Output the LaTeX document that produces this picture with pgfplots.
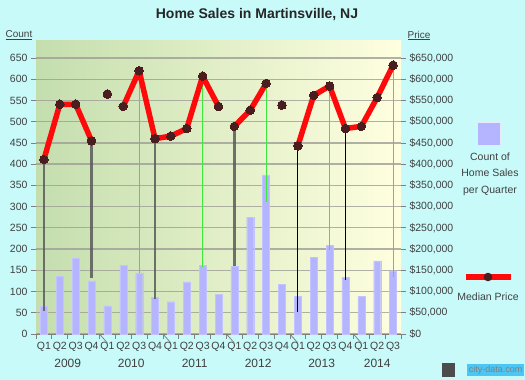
\documentclass[border=0pt]{standalone}
\usepackage{pgfplots}
\pgfplotsset{compat=1.18}
\usepackage{fontspec}
\setmainfont{Liberation Sans}
\definecolor{bgc}{HTML}{C8FAFA}
\definecolor{plotL}{HTML}{C4DEAE}
\definecolor{plotR}{HTML}{FFFFE0}
\definecolor{barc}{HTML}{B4B4FF}
\definecolor{mk}{HTML}{4A1E1E}
\definecolor{tk}{HTML}{404040}
\definecolor{gridc}{HTML}{9E9E96}
\definecolor{dropg}{HTML}{5A5A5A}
\definecolor{dropgreen}{HTML}{3CE83C}
\definecolor{linered}{HTML}{FF0A0A}
\begin{document}
\begin{tikzpicture}[x=1pt,y=1pt]
\fill[bgc] (0,0) rectangle (525,380);
\begin{axis}[at={(36pt,46pt)}, anchor=south west, scale only axis,
  width=365pt, height=293pt,
  xmin=-0.5, xmax=22.5, ymin=0, ymax=690,
  axis background/.style={left color=plotL, right color=plotR},
  axis x line*=bottom, axis y line*=left,
  x axis line style={draw=gray, line width=0.8pt},
  y axis line style={draw=none},
  tick align=outside, major tick length=5pt,
  tick style={draw=gray, line width=0.8pt},
  ytick={0,50,...,650},
  ymajorgrids, grid style={gridc, line width=1.3pt, opacity=0.8},
  xtick={-0.5,0.5,...,22.5},
  xticklabels={Q1,Q2,Q3,Q4,Q1,Q2,Q3,Q4,Q1,Q2,Q3,Q4,Q1,Q2,Q3,Q4,Q1,Q2,Q3,Q4,Q1,Q2,Q3,{}},
  xticklabel style={xshift=7.93pt},
  every tick label/.append style={font=\fontsize{10.5}{12}\selectfont, text=tk},
  /pgf/number format/assume math mode=true,
  unbounded coords=jump,
  clip=false,
]
\addplot[ybar, bar width=7pt, fill=barc, draw=barc!80!white, line width=0.3pt] coordinates {
(0,65)(1,136)(2,178)(3,125)(4,66)(5,162)(6,144)(7,86)(8,76)(9,123)(10,161)(11,94)
(12,160)(13,275)(14,375)(15,117)(16,88)(17,180)(18,209)(19,133)(20,89)(21,172)(22,149)};
% drop lines
\addplot[dropg, line width=2.4pt, opacity=0.85] coordinates {
(0,55)(0,411)(0.5,nan)(3,132)(3,455)(3.5,nan)(7,82)(7,460)(7.5,nan)(12,160)(12,489)};
\addplot[dropgreen, line width=1pt] coordinates {
(6,144)(6,620)(6.5,nan)(10,158)(10,607)(10.5,nan)(14,311)(14,590)(14.5,nan)(18,198)(18,584)(18.5,nan)(22,134)(22,633)};
\addplot[black, line width=1.1pt] coordinates {
(16,52)(16,443)(16.5,nan)(19,127)(19,484)};
% median price
\addplot[linered, line width=5.5pt, line join=round, mark=*, mark size=4.3pt,
  mark options={fill=mk, draw=mk, line width=0pt}] coordinates {
(0,411)(1,541)(2,541)(3,455)(3.5,nan)(4,565)(4.5,nan)(5,536)(6,620)(7,460)(8,466)(9,484)(10,607)(11,536)
(11.5,nan)(12,489)(13,527)(14,590)(14.5,nan)(15,539)(15.5,nan)(16,443)(17,562)(18,584)(19,484)(20,489)(21,557)(22,633)};
% year boundary ticks and year labels
\foreach \xx in {3.5,7.5,11.5,15.5,19.5} {
  \edef\tmp{\noexpand\draw[gray, line width=0.8pt] (axis cs:\xx,0) -- ++(0,-9pt);}\tmp
}
\foreach \xx/\yy in {1.5/2009,5.5/2010,9.5/2011,13.5/2012,17.5/2013,21/2014} {
  \edef\tmp{\noexpand\node[font=\noexpand\fontsize{12}{14}\noexpand\selectfont, text=tk] at (axis cs:\xx,0) [yshift=-29pt] {\yy};}\tmp
}
\end{axis}
\begin{axis}[at={(36pt,46pt)}, anchor=south west, scale only axis,
  width=365pt, height=293pt,
  xmin=-0.5, xmax=22.5, ymin=0, ymax=690000,
  axis x line=none, axis y line*=right,
  axis line style={draw=none},
  tick align=outside, major tick length=5pt,
  tick style={draw=gray, line width=0.8pt},
  ytick={0,50000,...,650000}, scaled y ticks=false,
  yticklabel={\$\pgfmathprintnumber{\tick}},
  /pgf/number format/.cd, fixed, precision=0, 1000 sep={,}, assume math mode=true, /pgfplots/.cd,
  every tick label/.append style={font=\fontsize{10.5}{12}\selectfont, text=tk},
]
\addplot[draw=none] coordinates {(0,0)};
\end{axis}
% titles
\node[font=\bfseries\fontsize{14}{16}\selectfont, text=black!85] at (257,365) {Home Sales in Martinsville, NJ};
\node[font=\fontsize{10}{12}\selectfont, text=tk] at (19,344.5) {\underline{Count}};
\node[font=\fontsize{10}{12}\selectfont, text=tk] at (419,344.5) {\underline{Price}};
% legend
\fill[barc, draw=white!70!barc] (477,235) rectangle (500,258);
\node[font=\fontsize{10.5}{16.5}\selectfont, text=tk, align=center] at (490,206) {Count of\\Home Sales\\per Quarter};
\draw[linered, line width=5.5pt] (466,103) -- (511,103);
\fill[mk] (488,103) circle (4.3pt);
\node[font=\fontsize{10.5}{12}\selectfont, text=tk] at (488,83) {Median Price};
\node[font=\fontsize{9}{10}\selectfont, text=gray, fill=cyan!70, inner sep=1.5pt, anchor=east] at (524,10) {city-data.com};
\fill[gray!60!black] (442,3) rectangle (455,17);
\pgfresetboundingbox
\useasboundingbox (0,0) rectangle (525,380);
\end{tikzpicture}
\end{document}
